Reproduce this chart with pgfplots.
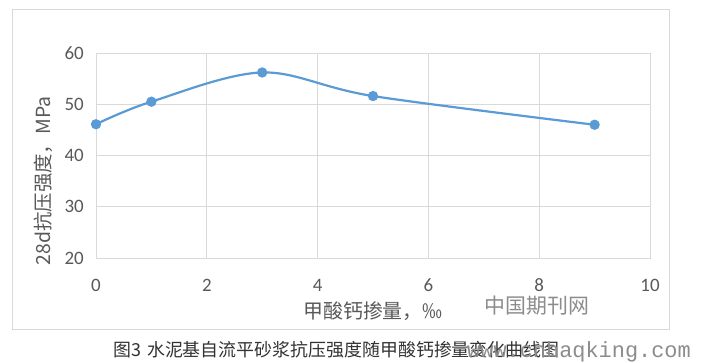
\documentclass[border=0pt]{standalone}
\usepackage{pgfplots}
\pgfplotsset{compat=1.18}
\usepackage{fontspec}
\setmainfont{Carlito}
\newfontfamily\cjk{Noto Sans CJK SC}
\newfontfamily\mono{Liberation Mono}
\definecolor{gridc}{HTML}{D9D9D9}
\definecolor{txt}{HTML}{595959}
\definecolor{ser}{HTML}{5B9BD5}
\begin{document}
\begin{tikzpicture}[x=1bp,y=1bp]
\clip (0,0) rectangle (703,362);
\fill[white] (0,0) rectangle (703,362);
\draw[gridc, line width=1bp] (12,33) rectangle (669,352);
\begin{axis}[
  at={(96bp,104bp)}, anchor=south west,
  scale only axis, width=554bp, height=205bp,
  xmin=0, xmax=10, ymin=20, ymax=60,
  xtick={0,2,4,6,8,10}, ytick={20,30,40,50,60},
  grid=major, grid style={gridc, line width=0.9bp},
  axis line style={gridc, line width=0.9bp},
  major tick length=0pt,
  tick label style={font=\fontsize{19}{22}\selectfont, text=txt},
  /pgf/number format/assume math mode=true,
  xticklabel style={anchor=center, inner sep=0pt, yshift=-27bp},
  yticklabel style={anchor=east, inner sep=0pt, xshift=-12bp},
  clip=false,
]
\addplot[ser, line width=2.2bp, smooth, tension=0.55, mark=*, mark size=4bp, mark options={fill=ser, draw=ser}]
  coordinates {(0,46.1) (1,50.5) (3,56.2) (5,51.6) (9,46.0)};
\end{axis}
\node[rotate=90, text=txt, font=\cjk\fontsize{19.5}{22}\selectfont, inner sep=0pt] at (43,181) {28d抗压强度，MPa};
\node[text=txt, font=\cjk\fontsize{20}{22}\selectfont, inner sep=0pt] at (373,51) {甲酸钙掺量，‰};
\node[text=black!80, font=\cjk\fontsize{18}{20}\selectfont, inner sep=0pt, anchor=west] at (113,12) {图3\hspace{6bp}水泥基自流平砂浆抗压强度随甲酸钙掺量变化曲线图};
\node[text=black!45, font=\cjk\fontsize{21}{23}\selectfont, inner sep=0pt] at (537,56) {中国期刊网};
\node[text=black!45, font=\mono\fontsize{22}{24}\selectfont, inner sep=0pt, anchor=west] at (467,10) {www.cnhaqking.com};
\end{tikzpicture}
\end{document}
